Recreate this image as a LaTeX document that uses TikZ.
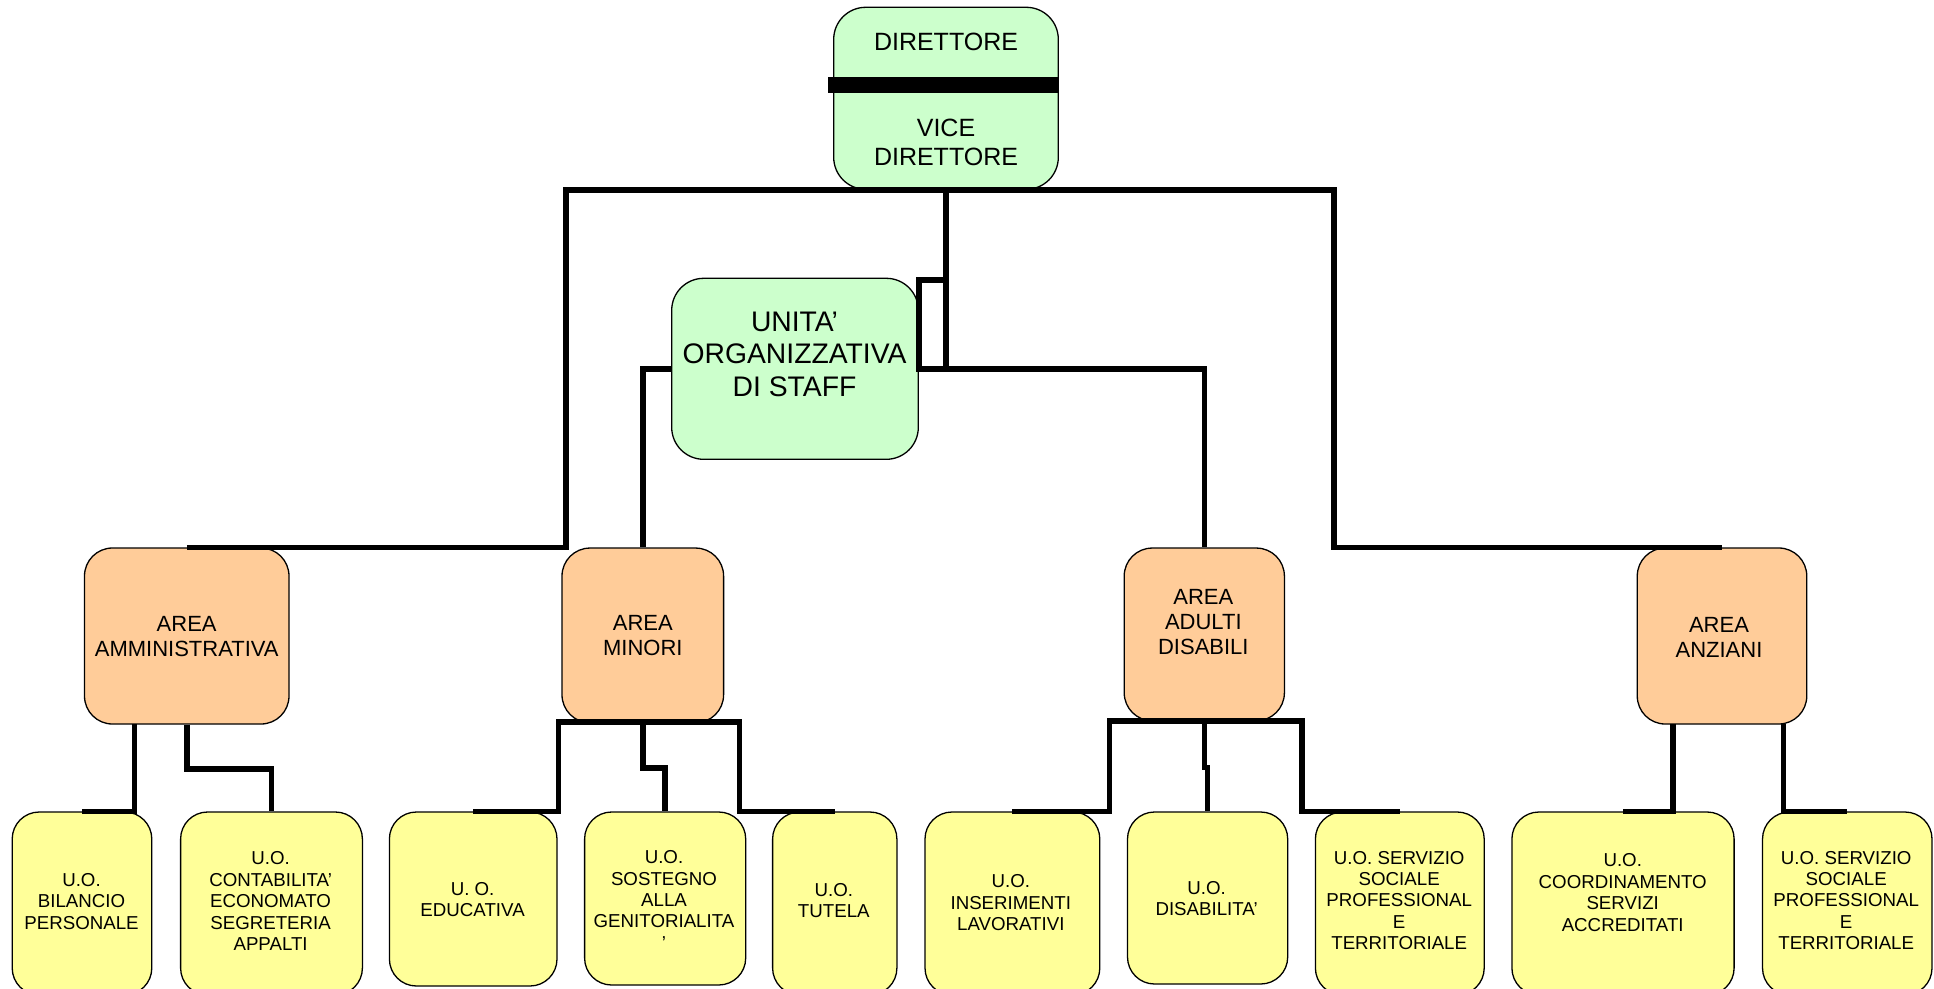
\documentclass[tikz,border=0pt]{standalone}
\usepackage{fontspec}
\setmainfont{Liberation Sans}
\definecolor{boxgreen}{HTML}{CCFFCC}
\definecolor{boxorange}{HTML}{FFCC99}
\definecolor{boxyellow}{HTML}{FFFF99}
\begin{document}
\begin{tikzpicture}[x=1pt,y=-1pt,
  box/.style={draw=black, line width=1.3pt, rounded corners=28pt, inner sep=0pt, rectangle},
  gbox/.style={box, fill=boxgreen, rounded corners=32pt},
  obox/.style={box, fill=boxorange},
  ybox/.style={box, fill=boxyellow, rounded corners=27pt},
  conn/.style={line width=5.5pt, line join=miter, draw=black},
  txt/.style={inner sep=0pt, align=center, text=black},
  tdir/.style={txt, font=\fontsize{25}{28.4}\selectfont},
  tstaff/.style={txt, font=\fontsize{28.3}{32.5}\selectfont},
  tarea/.style={txt, font=\fontsize{22}{25}\selectfont},
  tuo/.style={txt, font=\fontsize{18.7}{21.4}\selectfont}]
\useasboundingbox (0,0) rectangle (1934,988);
\fill[white] (0,0) rectangle (1934,988);
\clip (0,0) rectangle (1934,988);

% top level boxes
\node[gbox, minimum width=224.6pt, minimum height=182pt] (dir) at (946,98.3) {};
\node[gbox, minimum width=246.6pt, minimum height=181pt] (staff) at (795,368.8) {};

% areas
\node[obox, minimum width=204.5pt, minimum height=176pt] (aamm) at (186.75,636) {};
\node[obox, minimum width=161.6pt, minimum height=174.7pt] (amin) at (642.8,635.4) {};
\node[obox, minimum width=160.2pt, minimum height=172.7pt] (aadu) at (1204.3,634.4) {};
\node[obox, minimum width=169.5pt, minimum height=176pt] (aanz) at (1722,636) {};

% units
\node[ybox, minimum width=139.6pt, minimum height=183pt] (b1) at (82,903.5) {};
\node[ybox, minimum width=181.8pt, minimum height=183pt] (b2) at (271.5,903.5) {};
\node[ybox, minimum width=167.6pt, minimum height=174pt] (b3) at (473.2,899) {};
\node[ybox, minimum width=161.1pt, minimum height=173pt] (b4) at (665.15,898.5) {};
\node[ybox, minimum width=124.3pt, minimum height=183pt] (b5) at (834.75,903.5) {};
\node[ybox, minimum width=174.8pt, minimum height=183pt] (b6) at (1012.4,903.5) {};
\node[ybox, minimum width=160.2pt, minimum height=172pt] (b7) at (1207.6,898) {};
\node[ybox, minimum width=168.8pt, minimum height=183pt] (b8) at (1399.8,903.5) {};
\node[ybox, minimum width=222.2pt, minimum height=183pt] (b9) at (1623,903.5) {};
\node[ybox, minimum width=169.5pt, minimum height=183pt] (b10) at (1847.25,903.5) {};

% junction points
\coordinate (jL) at (566,190);
\coordinate (jR) at (1334,190);
\coordinate (jC) at (945.7,280);
\coordinate (k1) at (134.7,724);
\coordinate (m1) at (558.3,722);
\coordinate (m2) at (739.5,722);
\coordinate (d1) at (1109.7,721);
\coordinate (d2) at (1302.2,721);
\coordinate (z1) at (1672.8,724);
\coordinate (z2) at (1783.6,724);

% connectors
\draw[conn] (aamm.north) -| (jL) -- (jR) |- (aanz.north);
\draw[conn] (dir.south) -- (dir.south |- staff.east);
\draw[conn] (jC) -| (staff.east) -| (aadu.north);
\draw[conn] (staff.west) -| (amin.north);

\draw[conn] (k1) |- (b1.north);
\draw[conn] (aamm.south) -- ++(0,44.3) -| (b2.north);
\draw[conn] (b3.north) -| (m1) -- (m2) |- (b5.north);
\draw[conn] (amin.south) -- ++(0,44.6) -| (b4.north);
\draw[conn] (b6.north) -| (d1) -- (d2) |- (b8.north);
\draw[conn] (aadu.south) -- ++(0,46.3) -| (b7.north);
\draw[conn] (z1) |- (b9.north);
\draw[conn] (z2) |- (b10.north);

% director separator bar
\fill[black] (827.8,77.3) rectangle (1058.2,92.7);

% texts
\node[tdir] (tdir1) at (946,41.7) {DIRETTORE};
\node[tdir] (tdir2) at (946,142.5) {VICE\\DIRETTORE};
\node[tstaff] (tstaff) at (794.5,354.2) {UNITA’\\ORGANIZZATIVA\\DI STAFF};

\node[tarea] (taamm) at (186.7,636.7) {AREA\\AMMINISTRATIVA};
\node[tarea] (tamin) at (642.8,635.5) {AREA\\MINORI};
\node[tarea] (taadu) at (1203.3,622.5) {AREA\\ADULTI\\DISABILI};
\node[tarea] (taanz) at (1719,637) {AREA\\ANZIANI};

\node[tuo] (tb1) at (81.5,901.4) {U.O.\\BILANCIO\\PERSONALE};
\node[tuo] (tb2) at (270.6,901.2) {U.O.\\CONTABILITA’\\ECONOMATO\\SEGRETERIA\\APPALTI};
\node[tuo] (tb3) at (472.6,899.7) {U. O.\\EDUCATIVA};
\node[tuo] (tb4) at (664,900) {U.O.\\SOSTEGNO\\ALLA\\GENITORIALITA\\’};
\node[tuo] (tb5) at (833.8,900.5) {U.O.\\TUTELA};
\node[tuo] (tb6) at (1010.8,902.9) {U.O.\\INSERIMENTI\\LAVORATIVI};
\node[tuo] (tb7) at (1206.6,898.8) {U.O.\\DISABILITA’};
\node[tuo] (tb8) at (1399.2,900.4) {U.O. SERVIZIO\\SOCIALE\\PROFESSIONAL\\E\\TERRITORIALE};
\node[tuo] (tb9) at (1622.7,892.5) {U.O.\\COORDINAMENTO\\SERVIZI\\ACCREDITATI};
\node[tuo] (tb10) at (1846.2,900.4) {U.O. SERVIZIO\\SOCIALE\\PROFESSIONAL\\E\\TERRITORIALE};
\end{tikzpicture}
\end{document}
